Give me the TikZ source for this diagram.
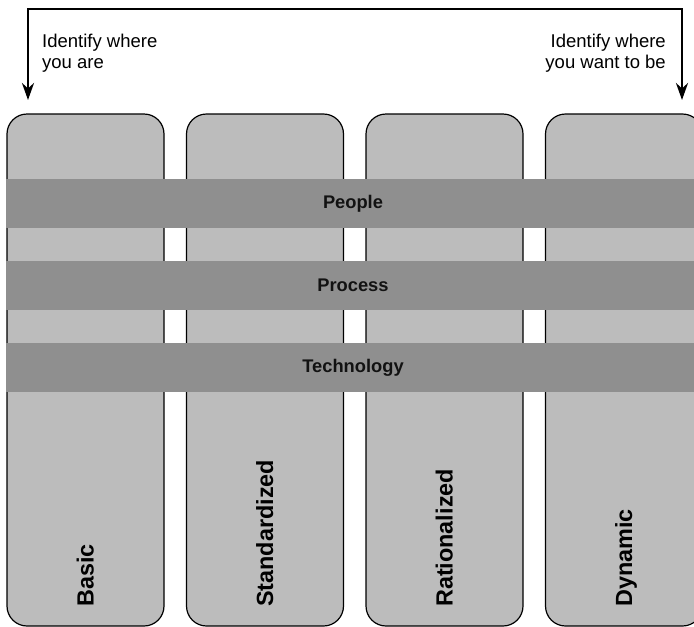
\documentclass[tikz,border=0pt]{standalone}
\usepackage{fontspec}
\setmainfont{Liberation Sans}
\usetikzlibrary{arrows.meta}
\definecolor{stagegray}{HTML}{BCBCBC}
\definecolor{bandgray}{HTML}{8F8F8F}

\begin{document}
\begin{tikzpicture}[
    x=1pt,y=-1pt,
    stage/.style={draw, line width=1.2pt, rounded corners=20pt, fill=stagegray,
      minimum width=157pt, minimum height=512pt, inner sep=0pt},
    band/.style={fill=bandgray, minimum width=695pt, minimum height=49pt,
      inner sep=0pt, font=\bfseries\fontsize{18.3}{22}\selectfont, text=black!93},
    stagelabel/.style={rotate=90, anchor=base west, inner sep=0pt,
      font=\bfseries\fontsize{23.4}{28}\selectfont},
    note/.style={inner sep=0pt, font=\fontsize{18.5}{21}\selectfont},
    line/.style={line width=2.6pt, {Stealth[length=17pt,width=12pt]}-{Stealth[length=17pt,width=12pt]}}
    ]
    \useasboundingbox (0,0) rectangle (694,627);
    \clip (0,0) rectangle (694,627);
    \node[stage] (basic) at (85.5, 370) {};
    \node[stage] (standardized) at (265, 370) {};
    \node[stage] (rationalized) at (444.5, 370) {};
    \node[stage] (dynamic) at (624, 370) {};
    \node[band] (people) at (353, 203.5) {People};
    \node[band] (process) at (353, 285) {Process};
    \node[band] (technology) at (353, 367.5) {Technology};
    \node[stagelabel] (basictext) at (93.5, 607) {Basic};
    \node[stagelabel] (standardizedtext) at (273, 607) {Standardized};
    \node[stagelabel] (rationalizedtext) at (452.5, 607) {Rationalized};
    \node[stagelabel] (dynamictext) at (632, 607) {Dynamic};
    \node[note, anchor=north west, align=left] (here) at (42, 34) {Identify where\\you are};
    \node[note, anchor=north east, align=right] (there) at (666, 34) {Identify where\\you want to be};
    \coordinate (from) at (28, 100);
    \coordinate (to) at (682, 100);
    \draw[line] (from) |- (352, 9) -| (to);
  \end{tikzpicture}
\end{document}
